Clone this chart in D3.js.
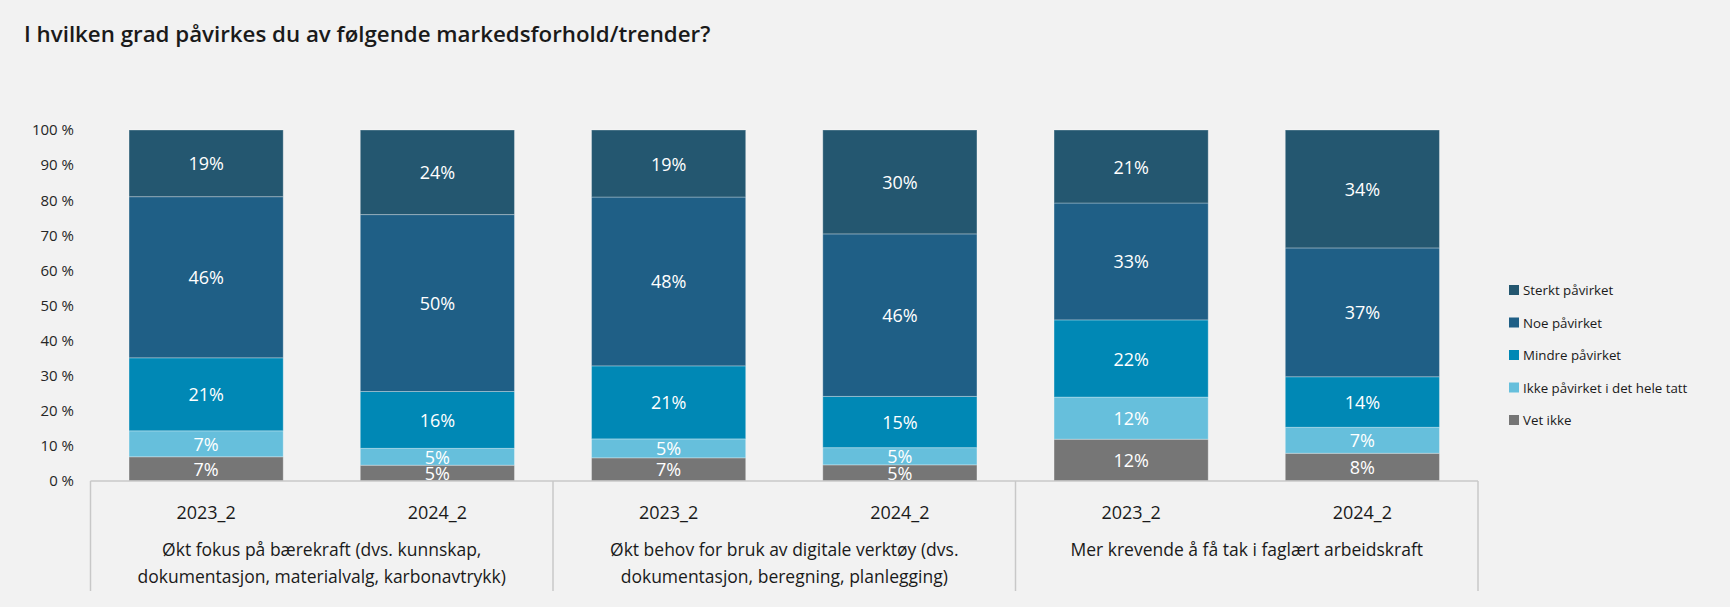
<!DOCTYPE html>
<html>
<head>
<meta charset="utf-8">
<script src="https://cdn.jsdelivr.net/npm/d3@7"></script>
<style>
  body { margin: 0; background: #f2f2f2; }
  svg text { font-family: "Open Sans", "Noto Sans", sans-serif; }
</style>
</head>
<body>
<div id="chart"></div>
<script>
// Data
let groups = [
    ['Økt fokus på bærekraft (dvs. kunnskap,', 'dokumentasjon, materialvalg, karbonavtrykk)'],
    ['Økt behov for bruk av digitale verktøy (dvs.', 'dokumentasjon, beregning, planlegging)'],
    ['Mer krevende å få tak i faglært arbeidskraft']
];
let years = ['2023_2', '2024_2'];
// series, bottom to top
let seriesNames = ['Vet ikke', 'Ikke påvirket i det hele tatt', 'Mindre påvirket', 'Noe påvirket', 'Sterkt påvirket'];
let colors = ['#767676', '#66bfdc', '#0088b5', '#1f5f86', '#245770'];
// one entry per bar (group x year), in the order of the bars
let vetIkke   = [6.9, 4.5, 6.6, 4.6, 11.9, 7.9];
let ikke      = [7.4, 4.8, 5.4, 4.9, 12.0, 7.4];
let mindre    = [20.8, 16.2, 20.8, 14.6, 22.0, 14.4];
let noe       = [45.9, 50.4, 48.1, 46.3, 33.3, 36.7];
let sterkt    = [19.0, 24.1, 19.1, 29.6, 20.8, 33.6];
let yTicks = [0, 10, 20, 30, 40, 50, 60, 70, 80, 90, 100];

let width = 1730, height = 607;
let plotLeft = 90.5, plotRight = 1478, plotTop = 130, plotBottom = 481;

let svg = d3.select('#chart').append('svg')
    .attr('width', width)
    .attr('height', height);

svg.append('text')
    .attr('x', 24)
    .attr('y', 42)
    .attr('font-size', 22.3)
    .attr('font-weight', 600)
    .attr('fill', '#1a1a1a')
    .text('I hvilken grad påvirkes du av følgende markedsforhold/trender?');

// build rows
let serieValues = [vetIkke, ikke, mindre, noe, sterkt];
let rows = [];
groups.forEach(function (g, gi) {
    years.forEach(function (yr, yi) {
        let i = gi * years.length + yi;
        let row = { group: gi, year: yr };
        seriesNames.forEach(function (s, si) { row[s] = serieValues[si][i]; });
        rows.push(row);
    });
});

let groupScale = d3.scaleBand()
    .domain(d3.range(groups.length))
    .range([plotLeft, plotRight]);
let yearScale = d3.scaleBand()
    .domain(years)
    .range([0, groupScale.bandwidth()])
    .paddingInner(1 / 3)
    .paddingOuter(1 / 6);
let y = d3.scaleLinear().domain([0, 100]).range([plotBottom, plotTop]);
let color = d3.scaleOrdinal().domain(seriesNames).range(colors);

let stack = d3.stack().keys(seriesNames);
let stacked = stack(rows);

// y axis labels only
let yAxis = d3.axisLeft(y)
    .tickValues(yTicks)
    .tickFormat(function (d) { return d + ' %'; })
    .tickSize(0)
    .tickPadding(0);
let yg = svg.append('g')
    .attr('transform', 'translate(74,0)')
    .call(yAxis);
yg.select('.domain').remove();
yg.selectAll('text')
    .attr('font-size', 15)
    .attr('fill', '#262626');

// bars
let layer = svg.selectAll('g.layer')
    .data(stacked)
    .enter()
    .append('g')
    .attr('class', 'layer')
    .attr('fill', function (d) { return color(d.key); });

function barX(d) { return groupScale(d.data.group) + yearScale(d.data.year); }

layer.selectAll('rect')
    .data(function (d) { return d; })
    .enter()
    .append('rect')
    .attr('x', barX)
    .attr('y', function (d) { return y(d[1]); })
    .attr('width', yearScale.bandwidth())
    .attr('height', function (d) { return y(d[0]) - y(d[1]); })
    .attr('stroke', 'rgba(255,255,255,0.3)')
    .attr('stroke-width', 1);

// value labels
layer.selectAll('text')
    .data(function (d) { return d.map(function (p) { p.key = d.key; return p; }); })
    .enter()
    .append('text')
    .attr('x', function (d) { return barX(d) + yearScale.bandwidth() / 2; })
    .attr('y', function (d) { return (y(d[0]) + y(d[1])) / 2; })
    .attr('text-anchor', 'middle')
    .attr('dominant-baseline', 'central')
    .attr('font-size', 18)
    .attr('fill', 'white')
    .text(function (d) { return Math.round(d.data[d.key]) + '%'; });

// category axis: baseline and group dividers
svg.append('line')
    .attr('x1', plotLeft).attr('x2', plotRight)
    .attr('y1', plotBottom).attr('y2', plotBottom)
    .attr('stroke', '#c8c8c8')
    .attr('stroke-width', 1.5);
let dividers = groupScale.domain().map(function (g) { return groupScale(g); }).concat([plotRight]);
svg.selectAll('line.div')
    .data(dividers)
    .enter()
    .append('line')
    .attr('class', 'div')
    .attr('x1', function (d) { return d; })
    .attr('x2', function (d) { return d; })
    .attr('y1', plotBottom)
    .attr('y2', 591)
    .attr('stroke', '#c8c8c8')
    .attr('stroke-width', 1.5);

// year labels
svg.selectAll('text.year')
    .data(rows)
    .enter()
    .append('text')
    .attr('class', 'year')
    .attr('x', function (d) { return groupScale(d.group) + yearScale(d.year) + yearScale.bandwidth() / 2; })
    .attr('y', 512)
    .attr('text-anchor', 'middle')
    .attr('dominant-baseline', 'central')
    .attr('font-size', 18)
    .attr('fill', '#1a1a1a')
    .text(function (d) { return d.year; });

// group labels
let gl = svg.selectAll('text.group')
    .data(groups)
    .enter()
    .append('text')
    .attr('class', 'group')
    .attr('text-anchor', 'middle')
    .attr('font-size', 17.5)
    .attr('fill', '#1a1a1a');
gl.selectAll('tspan')
    .data(function (d, i) { return d.map(function (line, li) { return { line: line, li: li, g: i }; }); })
    .enter()
    .append('tspan')
    .attr('x', function (d) { return groupScale(d.g) + groupScale.bandwidth() / 2; })
    .attr('y', function (d) { return 549 + d.li * 27; })
    .attr('dominant-baseline', 'central')
    .text(function (d) { return d.line; });

// legend, top to bottom
let legendItems = seriesNames.slice().reverse();
let legend = svg.selectAll('g.legend')
    .data(legendItems)
    .enter()
    .append('g')
    .attr('class', 'legend')
    .attr('transform', function (d, i) { return 'translate(1509,' + (290 + i * 32.5) + ')'; });
legend.append('rect')
    .attr('x', 0).attr('y', -5)
    .attr('width', 10).attr('height', 10)
    .attr('fill', function (d) { return color(d); });
legend.append('text')
    .attr('x', 14)
    .attr('y', 0)
    .attr('dominant-baseline', 'central')
    .attr('font-size', 13.3)
    .attr('fill', '#1a1a1a')
    .text(function (d) { return d; });
</script>
</body>
</html>
